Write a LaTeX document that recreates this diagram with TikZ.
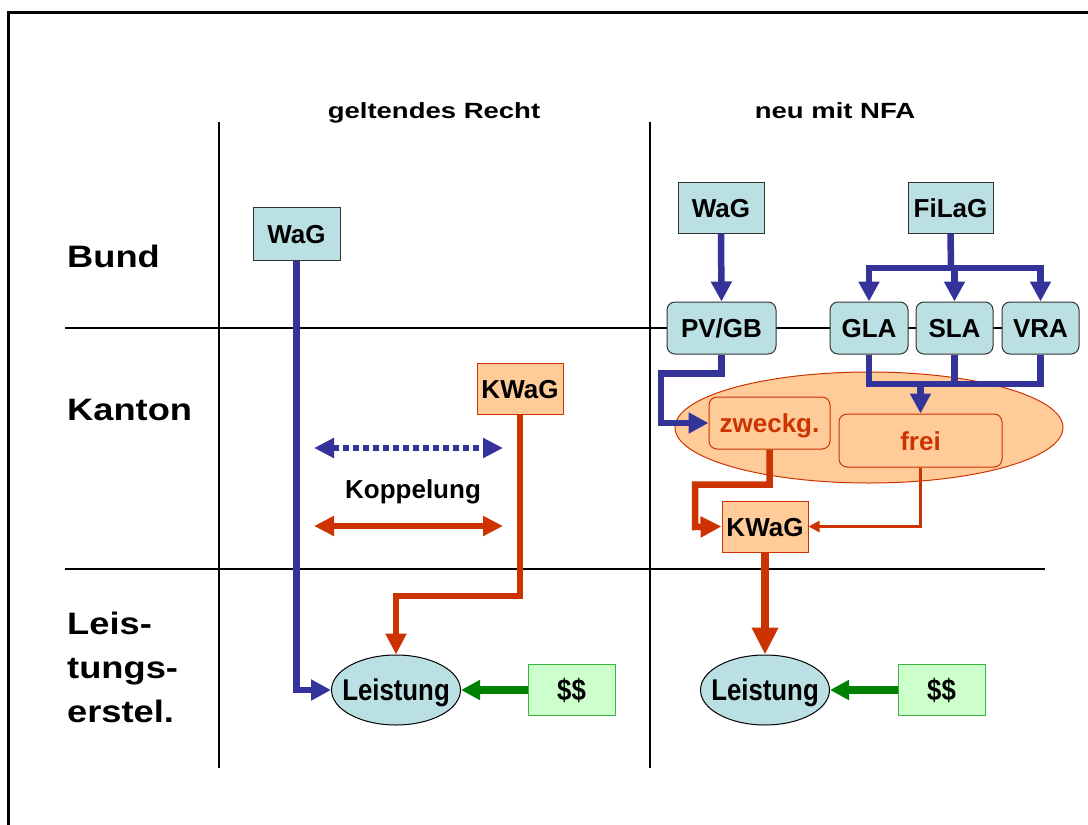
\documentclass[tikz,border=0pt]{standalone}
\usepackage{fontspec}
\setmainfont{Liberation Sans}
\usepackage{graphicx}
\usetikzlibrary{shapes.geometric,arrows.meta}
\definecolor{blau}{RGB}{51,51,153}
\definecolor{rot}{RGB}{204,51,0}
\definecolor{gruen}{RGB}{0,128,0}
\definecolor{hellblau}{RGB}{187,224,227}
\definecolor{pfirsich}{RGB}{255,204,153}
\definecolor{hellgruen}{RGB}{204,255,204}
\definecolor{randgruen}{RGB}{60,180,60}
\newcommand{\breit}[2]{\scalebox{#1}[1]{#2}}

\tikzset{
  kasten/.style={draw=black!80, fill=hellblau, line width=1pt, inner sep=0pt,
    minimum width=86pt, minimum height=51pt, text height=19pt, text depth=0pt,
    font=\fontsize{26}{30}\selectfont\bfseries},
  kanton/.style={kasten, draw=rot, fill=pfirsich},
  topfkasten/.style={kanton, rounded corners=8pt, text=rot},
  geld/.style={kasten, draw=randgruen, fill=hellgruen, minimum width=87pt,
    text height=21pt, font=\fontsize{30}{34}\selectfont\bfseries},
  leist/.style={ellipse, draw=black, fill=hellblau, line width=1pt, inner sep=0pt,
    minimum width=129pt, minimum height=70pt, text height=21pt, text depth=0pt,
    font=\fontsize{30}{34}\selectfont\bfseries},
  topf/.style={ellipse, draw=rot, fill=pfirsich, line width=1pt, inner sep=0pt,
    minimum width=388pt, minimum height=111pt},
  kopf/.style={inner sep=0pt, font=\fontsize{22}{26}\selectfont\bfseries},
  ebene/.style={inner sep=0pt, align=left, font=\fontsize{31}{44}\selectfont\bfseries},
  beschr/.style={inner sep=0pt, font=\fontsize{26}{30}\selectfont\bfseries},
  raster/.style={line width=1.3pt},
  blaulinie/.style={draw=blau, line width=6.5pt},
  blaupfeil/.style={blaulinie, -{Triangle[length=20pt,width=20pt]}},
  rotpfeil/.style={draw=rot, line width=6.5pt, -{Triangle[length=21pt,width=20pt]}},
  rotdick/.style={draw=rot, line width=7.5pt, -{Triangle[length=27pt,width=25pt]}},
  rotduenn/.style={draw=rot, line width=2.5pt, -{Triangle[length=11pt,width=11pt]}},
  gruenpfeil/.style={draw=gruen, line width=8pt, -{Triangle[length=19pt,width=19pt]}}
}

\begin{document}
\begin{tikzpicture}[x=1pt, y=-1pt]
\useasboundingbox (0,0) rectangle (1088,825);

% Rahmen und Raster
\draw[line width=3pt] (1088,12) -- (8,12) -- (8,825);
\draw[raster] (65,328) -- (1045,328);
\draw[raster] (65,569) -- (1045,569);
\draw[raster] (219,122) -- (219,768);
\draw[raster] (650,122) -- (650,768);

% Ueberschriften
\node[kopf, anchor=base] (alt) at (434,118) {\breit{1.25}{geltendes Recht}};
\node[kopf, anchor=base] (neu) at (835,118) {\breit{1.25}{neu mit NFA}};
\node[ebene, anchor=base west] (bund) at (67,267) {\breit{1.17}{Bund}};
\node[ebene, anchor=base west] (kanton) at (67,420) {\breit{1.17}{Kanton}};
\node[ebene, anchor=north west] (erstel) at (67,612)
  {\breit{1.17}{Leis-}\\\breit{1.17}{tungs-}\\\breit{1.17}{erstel.}};

% geltendes Recht
\node[kasten, minimum width=87pt, minimum height=53pt] (wagL) at (296.5,233.5) {WaG};
\node[kanton] (kwagL) at (520,388.5) {KWaG};
\node[leist] (leistL) at (396,690) {\makebox[0pt]{\breit{0.86}{Leistung}}};
\node[geld] (geldL) at (571.5,690) {\breit{0.86}{\$\$}};
\node[beschr, anchor=base] (kopp) at (413,498) {Koppelung};
\coordinate (kopA) at (314,448);
\coordinate (kopB) at (503,448);
\coordinate (kopC) at (314,526);
\coordinate (kopD) at (503,526);
\coordinate (knickL) at (396,596);

\draw[blaupfeil] (wagL.south) |- (leistL.west);
\draw[rotpfeil, line width=6pt] (kwagL.south) |- (knickL) -- (leistL.north);
\draw[gruenpfeil] (geldL.west) -- (leistL.east);
\draw[draw=blau, line width=6pt, dash pattern=on 6pt off 4pt,
  {Triangle[length=20pt,width=19pt]}-{Triangle[length=20pt,width=19pt]}] (kopA) -- (kopB);
\draw[draw=rot, line width=6pt,
  {Triangle[length=20pt,width=19pt]}-{Triangle[length=20pt,width=19pt]}] (kopC) -- (kopD);

% neu mit NFA
\node[topf] (ktopf) at (869,427.5) {};
\node[kasten] (wagR) at (721,207.5) {WaG};
\node[kasten, minimum width=85pt] (filag) at (950.5,207.5) {FiLaG};
\node[kasten, rounded corners=8pt, minimum width=109pt, minimum height=52pt] (pvgb) at (721.5,328) {PV/GB};
\node[kasten, rounded corners=8pt, minimum width=78pt, minimum height=52pt] (gla) at (869,328) {GLA};
\node[kasten, rounded corners=8pt, minimum width=77pt, minimum height=52pt] (sla) at (954.5,328) {SLA};
\node[kasten, rounded corners=8pt, minimum width=77pt, minimum height=52pt] (vra) at (1040.5,328) {VRA};
\node[topfkasten, minimum width=121pt, minimum height=52pt] (zweckg) at (769.5,423) {zweckg.};
\node[topfkasten, minimum width=163pt, minimum height=53pt] (frei) at (920.5,440.5) {frei};
\node[kanton] (kwagR) at (765,526.5) {KWaG};
\node[leist] (leistR) at (765,690) {\makebox[0pt]{\breit{0.86}{Leistung}}};
\node[geld] (geldR) at (941.5,690) {\breit{0.86}{\$\$}};
\coordinate (verteiler) at (951,268);
\coordinate (sammel) at (920.5,384);
\coordinate (einL) at (661,423);
\coordinate (einR) at (695,527);

\draw[blaupfeil] (wagR.south) -- (pvgb.north);
\draw[blaulinie] (filag.south) -- (verteiler);
\draw[blaupfeil] (verteiler) -| (gla.north);
\draw[blaupfeil] (verteiler) -| (sla.north);
\draw[blaupfeil] (verteiler) -| (vra.north);
\draw[blaulinie] (gla.south) |- (sammel) -| (vra.south);
\draw[blaulinie] (sla.south) -- (sla.south |- sammel);
\draw[blaupfeil] (sammel) -- (frei.north);
\draw[blaupfeil] (pvgb.south) -- ++(0,19) -| (einL) -- (zweckg.west);
\draw[rotpfeil] (zweckg.south) -- ++(0,35) -| (einR) -- (kwagR.west);
\draw[rotduenn] (frei.south) |- (kwagR.east);
\draw[rotdick] (kwagR.south) -- (leistR.north);
\draw[gruenpfeil] (geldR.west) -- (leistR.east);

\end{tikzpicture}
\end{document}
